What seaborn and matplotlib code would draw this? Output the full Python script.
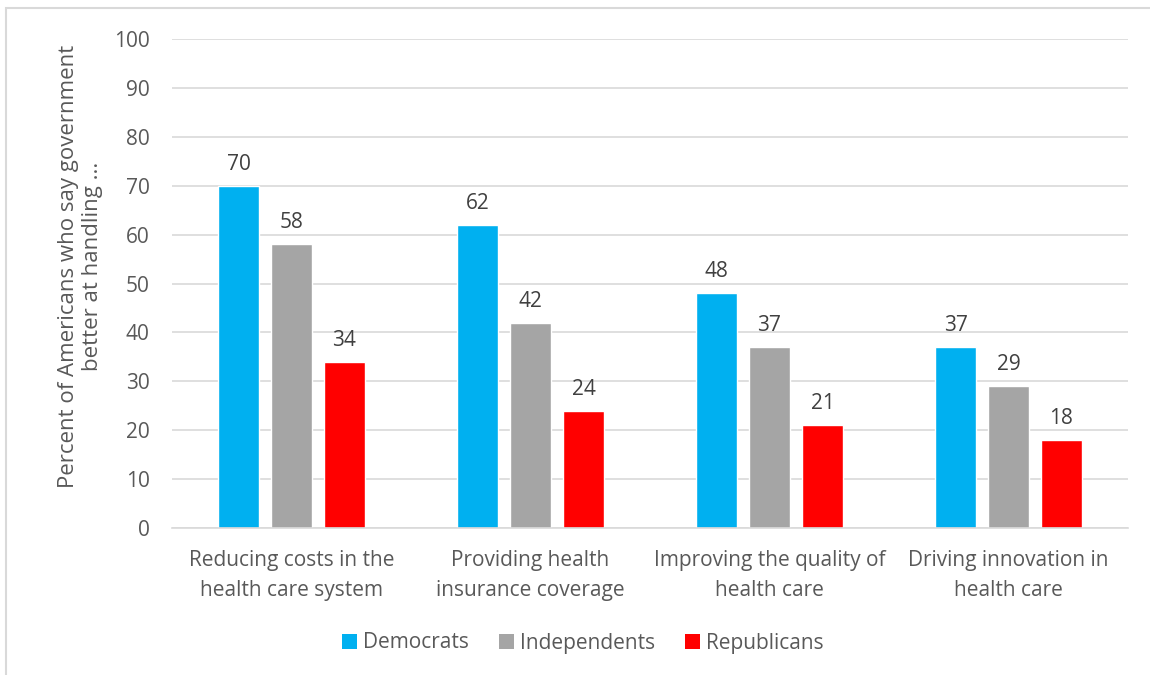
import matplotlib
matplotlib.use("Agg")
import matplotlib.pyplot as plt
import seaborn as sns
import pandas as pd
from matplotlib.patches import Rectangle, Patch

categories = ["Reducing costs in the\nhealth care system",
              "Providing health\ninsurance coverage",
              "Improving the quality of\nhealth care",
              "Driving innovation in\nhealth care"]
parties = ["Democrats", "Independents", "Republicans"]
democrats = [70, 62, 48, 37]
independents = [58, 42, 37, 29]
republicans = [34, 24, 21, 18]
colors = ["#00B0F0", "#A5A5A5", "#FF0000"]
yticks = [0, 10, 20, 30, 40, 50, 60, 70, 80, 90, 100]

rows = []
for party, vals in zip(parties, [democrats, independents, republicans]):
    for c, v in zip(categories, vals):
        rows.append({"category": c, "party": party, "value": v})
df = pd.DataFrame(rows)

sns.set_theme(style="white")
plt.rcParams["font.family"] = ["Open Sans", "DejaVu Sans"]

fig = plt.figure(figsize=(11.5, 6.75), dpi=100)
ax = fig.add_axes([172/1150, 1-528/675, (1128-172)/1150, (528-39)/675])

sns.barplot(data=df, x="category", y="value", hue="party", order=categories,
            hue_order=parties, palette=colors, width=0.665, gap=0.226,
            saturation=1, ax=ax, legend=False, errorbar=None)

ax.set_ylim(0, 100)
ax.set_yticks(yticks)
ax.set_xlim(-0.5, len(categories) - 0.5)
ax.grid(axis="y", color="#D9D9D9", linewidth=1.2)
ax.set_axisbelow(True)
for s in ["top", "right", "left"]:
    ax.spines[s].set_visible(False)
ax.spines["bottom"].set_color("#D9D9D9")
ax.spines["bottom"].set_linewidth(1.2)
ax.tick_params(axis="both", length=0, colors="#595959", labelsize=15)
ax.tick_params(axis="y", pad=16)
ax.tick_params(axis="x", pad=16)
for lab in ax.get_xticklabels():
    lab.set_linespacing(1.55)
ax.set_xlabel("")
ax.set_ylabel("Percent of Americans who say government\nbetter at handling ...",
              fontsize=16, color="#595959", linespacing=1.2)
ax.yaxis.set_label_coords(-0.072, 0.534)

for cont in ax.containers:
    ax.bar_label(cont, padding=8, fontsize=15, color="#404040")

handles = [Patch(facecolor=c, edgecolor="none") for c in colors]
fig.legend(handles, parties, loc="center", bbox_to_anchor=(583/1150, 1-643/675),
           ncol=3, frameon=False, fontsize=15, handlelength=0.7, handleheight=0.7,
           handletextpad=0.3, columnspacing=1.45, labelcolor="#595959")

fig.patches.append(Rectangle((6/1150, -0.01), 1.1, (675-8)/675 + 0.01,
                             transform=fig.transFigure, fill=False,
                             edgecolor="#D9D9D9", linewidth=1.5))

fig.savefig("out.png", dpi=100)
